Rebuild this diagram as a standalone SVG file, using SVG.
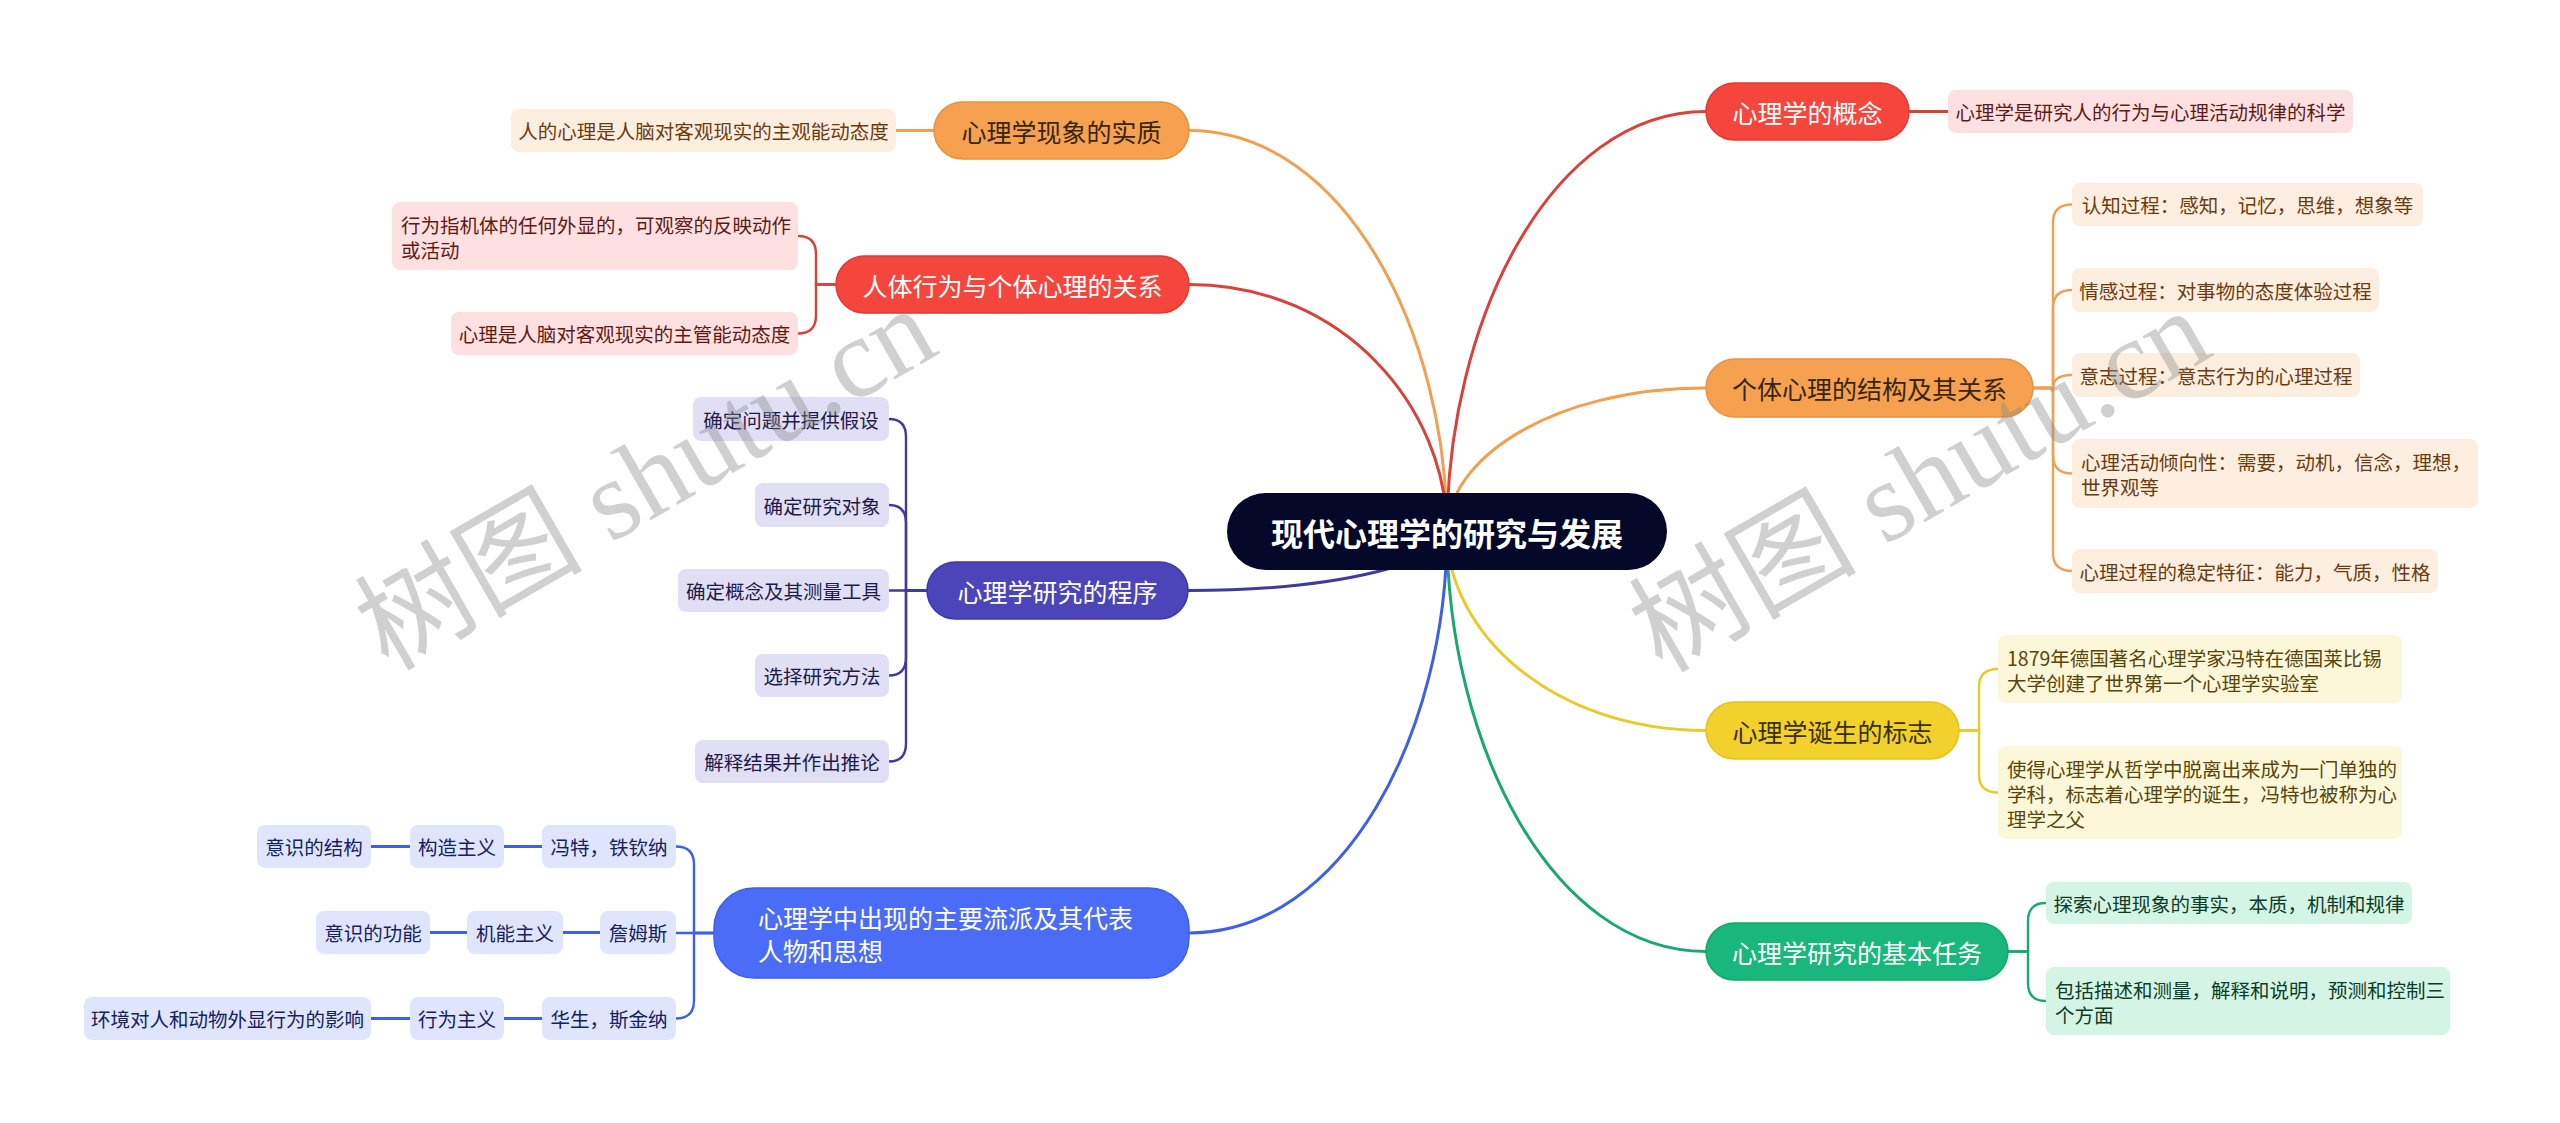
<svg xmlns="http://www.w3.org/2000/svg" width="2560" height="1123" viewBox="0 0 2560 1123">
<style>
text{font-family:"Noto Sans CJK SC","Noto Sans",sans-serif;dominant-baseline:central}
.c{fill:none;stroke-width:3;stroke-linecap:round}
.b{fill:none;stroke-width:2.4;stroke-linecap:round}
.mt{font-size:25px;text-anchor:middle}
.lt{font-size:19.5px;text-anchor:middle}
.ll{font-size:19.5px;text-anchor:start}
.w{fill:#ffffff}
.red{stroke:#d8423a}.org{stroke:#efa050}.yel{stroke:#e8ca2a}.grn{stroke:#1aa870}.ind{stroke:#3f3a9e}.blu{stroke:#3f60e6}
.nred{fill:#f5463e;stroke:#e23a33;stroke-width:1.5}
.norg{fill:#f5a14f;stroke:#e8923f;stroke-width:1.5}
.nyel{fill:#f2d12c;stroke:#e5c21e;stroke-width:1.5}
.ngrn{fill:#19b77b;stroke:#10a86d;stroke-width:1.5}
.nind{fill:#4c45ba;stroke:#3f38a8;stroke-width:1.5}
.nblu{fill:#4b6cf7;stroke:#3f5fe8;stroke-width:1.5}
.lred{fill:#fde0df}.lorg{fill:#fdeedf}.lyel{fill:#fdf7da}.lgrn{fill:#d4f4e6}.lind{fill:#e1dff5}.lblu{fill:#dfe5fd}
.tred{fill:#5c1b17}.torg{fill:#6b3b10}.tyel{fill:#574608}.tgrn{fill:#0d3c28}.tind{fill:#1e1a4c}.tblu{fill:#16225e}
.wm{font-family:"Liberation Serif","Noto Sans CJK SC",serif;font-size:114px;fill:#8a8a8a;fill-opacity:0.4;dominant-baseline:alphabetic}
</style>
<rect width="2560" height="1123" fill="#ffffff"/>
<g id="connectors">
  <path class="c red" d="M1447,531.5 C1447,321.5 1550.6,111.5 1706,111.5"/>
  <path class="c org" d="M1447,531.5 C1447,459.75 1550.6,388 1706,388"/>
  <path class="c yel" d="M1447,531.5 C1447,631 1550.6,730.5 1706,730.5"/>
  <path class="c grn" d="M1447,531.5 C1447,741.5 1550.6,951.5 1706,951.5"/>
  <path class="c org" d="M1447,531.5 C1447,331 1343.8,130.5 1189,130.5"/>
  <path class="c red" d="M1447,531.5 C1447,408 1343.8,284.5 1189,284.5"/>
  <path class="c ind" d="M1447,531.5 C1447,561 1343.4,590.5 1188,590.5"/>
  <path class="c blu" d="M1447,531.5 C1447,732.25 1343.8,933 1189,933"/>
  <path class="c red" d="M1909,111.5 H1948"/>
  <path class="b org" d="M2033,388 H2053 V222.5 Q2053,204.5 2072,204.5"/>
  <path class="b org" d="M2033,388 H2053 V308 Q2053,290 2072,290"/>
  <path class="b org" d="M2033,388 H2053 Q2053,375 2072,375"/>
  <path class="b org" d="M2033,388 H2053 V455.5 Q2053,473.5 2072,473.5"/>
  <path class="b org" d="M2033,388 H2053 V553 Q2053,571 2072,571"/>
  <path class="b yel" d="M1959,730.5 H1979 V687 Q1979,669 1998,669"/>
  <path class="b yel" d="M1959,730.5 H1979 V774.5 Q1979,792.5 1998,792.5"/>
  <path class="b grn" d="M2008,951.5 H2028 V921 Q2028,903 2046,903"/>
  <path class="b grn" d="M2008,951.5 H2028 V983 Q2028,1001 2046,1001"/>
  <path class="c org" d="M896,130.5 H934"/>
  <path class="b red" d="M836,284.5 H816 V254 Q816,236 798,236"/>
  <path class="b red" d="M836,284.5 H816 V315.5 Q816,333.5 798,333.5"/>
  <path class="b ind" d="M927,590.5 H906 V437 Q906,419 889,419"/>
  <path class="b ind" d="M927,590.5 H906 V523 Q906,505 889,505"/>
  <path class="b ind" d="M927,590.5 H889"/>
  <path class="b ind" d="M927,590.5 H906 V657.5 Q906,675.5 889,675.5"/>
  <path class="b ind" d="M927,590.5 H906 V743.5 Q906,761.5 889,761.5"/>
  <path class="b blu" d="M714,933 H694 V864.5 Q694,846.5 676,846.5"/>
  <path class="b blu" d="M714,933 H676"/>
  <path class="b blu" d="M714,933 H694 V1000.5 Q694,1018.5 676,1018.5"/>
  <path class="c blu" d="M504,846.5 H542 M371,846.5 H410"/>
  <path class="c blu" d="M563,932.5 H600 M430,932.5 H467"/>
  <path class="c blu" d="M504,1018.5 H542 M371,1018.5 H410"/>
</g>
<g id="root">
  <rect x="1227" y="493" width="440" height="77" rx="38.5" fill="#050829"/>
  <text x="1447" y="531.5" style="font-size:32px;font-weight:bold;text-anchor:middle" class="w">现代心理学的研究与发展</text>
</g>
<g id="n-gainian">
  <rect class="nred" x="1706" y="83" width="203" height="57" rx="28.5"/>
  <text class="mt w" x="1807.5" y="111.5">心理学的概念</text>
</g>
<g id="n-gainian-1">
  <rect class="lred" x="1948" y="90" width="405" height="43" rx="8"/>
  <text class="lt tred" x="2150.5" y="111.5">心理学是研究人的行为与心理活动规律的科学</text>
</g>
<g id="n-jiegou">
  <rect class="norg" x="1706" y="359" width="327" height="58" rx="29"/>
  <text class="mt" x="1869.5" y="388" fill="#3a2410">个体心理的结构及其关系</text>
</g>
<g id="n-jiegou-1">
  <rect class="lorg" x="2072" y="183" width="351" height="43" rx="8"/>
  <text class="lt torg" x="2247.5" y="204.5">认知过程：感知，记忆，思维，想象等</text>
</g>
<g id="n-jiegou-2">
  <rect class="lorg" x="2072" y="268" width="307" height="44" rx="8"/>
  <text class="lt torg" x="2225.5" y="290">情感过程：对事物的态度体验过程</text>
</g>
<g id="n-jiegou-3">
  <rect class="lorg" x="2072" y="353" width="288" height="44" rx="8"/>
  <text class="lt torg" x="2216" y="375">意志过程：意志行为的心理过程</text>
</g>
<g id="n-jiegou-4">
  <rect class="lorg" x="2072" y="439" width="406" height="69" rx="8"/>
  <text class="ll torg" x="2081" y="461">心理活动倾向性：需要，动机，信念，理想，</text>
  <text class="ll torg" x="2081" y="486">世界观等</text>
</g>
<g id="n-jiegou-5">
  <rect class="lorg" x="2072" y="549" width="366" height="44" rx="8"/>
  <text class="lt torg" x="2255" y="571">心理过程的稳定特征：能力，气质，性格</text>
</g>
<g id="n-dansheng">
  <rect class="nyel" x="1706" y="702" width="253" height="57" rx="28.5"/>
  <text class="mt" x="1832.5" y="730.5" fill="#3a3000">心理学诞生的标志</text>
</g>
<g id="n-dansheng-1">
  <rect class="lyel" x="1998" y="635" width="404" height="68" rx="8"/>
  <text class="ll tyel" x="2007" y="657">1879年德国著名心理学家冯特在德国莱比锡</text>
  <text class="ll tyel" x="2007" y="682">大学创建了世界第一个心理学实验室</text>
</g>
<g id="n-dansheng-2">
  <rect class="lyel" x="1998" y="746" width="404" height="93" rx="8"/>
  <text class="ll tyel" x="2007" y="768">使得心理学从哲学中脱离出来成为一门单独的</text>
  <text class="ll tyel" x="2007" y="793">学科，标志着心理学的诞生，冯特也被称为心</text>
  <text class="ll tyel" x="2007" y="818">理学之父</text>
</g>
<g id="n-renwu">
  <rect class="ngrn" x="1706" y="923" width="302" height="57" rx="28.5"/>
  <text class="mt w" x="1857" y="951.5">心理学研究的基本任务</text>
</g>
<g id="n-renwu-1">
  <rect class="lgrn" x="2046" y="882" width="366" height="42" rx="8"/>
  <text class="lt tgrn" x="2229" y="903">探索心理现象的事实，本质，机制和规律</text>
</g>
<g id="n-renwu-2">
  <rect class="lgrn" x="2046" y="967" width="404" height="68" rx="8"/>
  <text class="ll tgrn" x="2055" y="989">包括描述和测量，解释和说明，预测和控制三</text>
  <text class="ll tgrn" x="2055" y="1014">个方面</text>
</g>
<g id="n-shizhi">
  <rect class="norg" x="934" y="102" width="255" height="57" rx="28.5"/>
  <text class="mt" x="1061.5" y="130.5" fill="#3a2410">心理学现象的实质</text>
</g>
<g id="n-shizhi-1">
  <rect class="lorg" x="511" y="109" width="385" height="43" rx="8"/>
  <text class="lt torg" x="703.5" y="130.5">人的心理是人脑对客观现实的主观能动态度</text>
</g>
<g id="n-guanxi">
  <rect class="nred" x="836" y="256" width="353" height="57" rx="28.5"/>
  <text class="mt w" x="1012.5" y="284.5">人体行为与个体心理的关系</text>
</g>
<g id="n-guanxi-1">
  <rect class="lred" x="392" y="202" width="406" height="68" rx="8"/>
  <text class="ll tred" x="401" y="224">行为指机体的任何外显的，可观察的反映动作</text>
  <text class="ll tred" x="401" y="249">或活动</text>
</g>
<g id="n-guanxi-2">
  <rect class="lred" x="451" y="312" width="347" height="43" rx="8"/>
  <text class="lt tred" x="624.5" y="333.5">心理是人脑对客观现实的主管能动态度</text>
</g>
<g id="n-chengxu">
  <rect class="nind" x="927" y="562" width="261" height="57" rx="28.5"/>
  <text class="mt w" x="1057.5" y="590.5">心理学研究的程序</text>
</g>
<g id="n-chengxu-1">
  <rect class="lind" x="693" y="397" width="196" height="44" rx="8"/>
  <text class="lt tind" x="791" y="419">确定问题并提供假设</text>
</g>
<g id="n-chengxu-2">
  <rect class="lind" x="755" y="483" width="134" height="44" rx="8"/>
  <text class="lt tind" x="822" y="505">确定研究对象</text>
</g>
<g id="n-chengxu-3">
  <rect class="lind" x="678" y="569" width="211" height="43" rx="8"/>
  <text class="lt tind" x="783.5" y="590.5">确定概念及其测量工具</text>
</g>
<g id="n-chengxu-4">
  <rect class="lind" x="755" y="654" width="134" height="43" rx="8"/>
  <text class="lt tind" x="822" y="675.5">选择研究方法</text>
</g>
<g id="n-chengxu-5">
  <rect class="lind" x="695" y="740" width="194" height="43" rx="8"/>
  <text class="lt tind" x="792" y="761.5">解释结果并作出推论</text>
</g>
<g id="n-liupai">
  <rect class="nblu" x="714" y="888" width="475" height="90" rx="40"/>
  <text class="mt w" x="758" y="917" style="text-anchor:start">心理学中出现的主要流派及其代表</text>
  <text class="mt w" x="758" y="950" style="text-anchor:start">人物和思想</text>
</g>
<g id="n-liupai-1">
  <rect class="lblu" x="542" y="825" width="134" height="43" rx="8"/>
  <text class="lt tblu" x="609" y="846.5">冯特，铁钦纳</text>
</g>
<g id="n-liupai-1a">
  <rect class="lblu" x="410" y="825" width="94" height="43" rx="8"/>
  <text class="lt tblu" x="457" y="846.5">构造主义</text>
</g>
<g id="n-liupai-1b">
  <rect class="lblu" x="257" y="825" width="114" height="43" rx="8"/>
  <text class="lt tblu" x="314" y="846.5">意识的结构</text>
</g>
<g id="n-liupai-2">
  <rect class="lblu" x="600" y="911" width="76" height="43" rx="8"/>
  <text class="lt tblu" x="638" y="932.5">詹姆斯</text>
</g>
<g id="n-liupai-2a">
  <rect class="lblu" x="467" y="911" width="96" height="43" rx="8"/>
  <text class="lt tblu" x="515" y="932.5">机能主义</text>
</g>
<g id="n-liupai-2b">
  <rect class="lblu" x="316" y="911" width="114" height="43" rx="8"/>
  <text class="lt tblu" x="373" y="932.5">意识的功能</text>
</g>
<g id="n-liupai-3">
  <rect class="lblu" x="542" y="997" width="134" height="43" rx="8"/>
  <text class="lt tblu" x="609" y="1018.5">华生，斯金纳</text>
</g>
<g id="n-liupai-3a">
  <rect class="lblu" x="410" y="997" width="94" height="43" rx="8"/>
  <text class="lt tblu" x="457" y="1018.5">行为主义</text>
</g>
<g id="n-liupai-3b">
  <rect class="lblu" x="84" y="997" width="287" height="43" rx="8"/>
  <text class="lt tblu" x="227.5" y="1018.5">环境对人和动物外显行为的影响</text>
</g>
<g id="watermarks">
  <text class="wm" transform="translate(388,672) rotate(-30)">树图 shutu.cn</text>
  <text class="wm" transform="translate(1662,674) rotate(-30)">树图 shutu.cn</text>
</g>
</svg>
